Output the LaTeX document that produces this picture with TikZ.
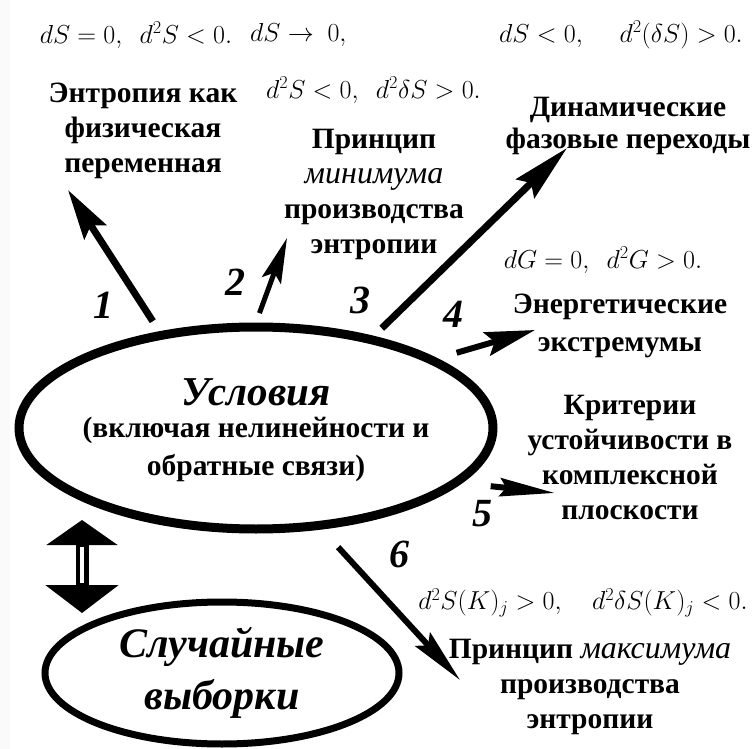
\RequirePackage{fix-cm}
\documentclass[tikz,border=0pt]{standalone}
\usepackage{fontspec}
\setmainfont{Liberation Serif}
\usetikzlibrary{arrows.meta,shapes.geometric,positioning,calc}

\newcommand{\itw}[1]{{\fontsize{32}{35}\selectfont\mdseries\itshape #1}}

\begin{document}
\begin{tikzpicture}[
    x=1pt, y=-1pt,
    txt/.style={font=\fontsize{29.5}{35}\selectfont\bfseries, align=center, inner sep=0pt},
    frm/.style={font=\fontsize{26}{28}\selectfont, inner sep=0pt},
    num/.style={font=\fontsize{40}{40}\selectfont\bfseries\itshape, inner sep=0pt},
    oval/.style={ellipse, draw, inner sep=0pt},
    arr/.style={-{Stealth[length=50pt,width=26pt,inset=8pt]}, line width=7pt},
    twoway/.style={{Triangle[length=25pt,width=70pt]}-{Triangle[length=28pt,width=72pt]},
      line width=13pt}
  ]
  \useasboundingbox (0,0) rectangle (756,749);
  \fill[white] (0,0) rectangle (756,749);
  \fill[black!2] (0,0) rectangle (10,749);

  % Ovals
  \node[oval, line width=9pt, minimum width=474pt, minimum height=202pt] (usl) at (256,428) {};
  \node[txt, font=\fontsize{41}{44}\selectfont\bfseries\itshape] (uslhead) at (256,392) {Условия};
  \node[txt, font=\fontsize{29.5}{38}\selectfont\bfseries] (usltxt) at (256,449)
    {(включая нелинейности и\\обратные связи)};
  \node[oval, line width=7pt, minimum width=354pt, minimum height=142pt,
        txt, font=\fontsize{42}{52}\selectfont\bfseries\itshape] (rnd) at (222,673)
    {Случайные\\выборки};

  % Texts
  \node[txt] (ent) at (143,131) {Энтропия как\\физическая\\переменная};
  \node[txt] (pmin) at (374,194) {Принцип\\\itw{минимума}\\производства\\энтропии};
  \node[txt, font=\fontsize{29.5}{32}\selectfont\bfseries] (dyn) at (628,126)
    {Динамические\\фазовые переходы};
  \node[txt, font=\fontsize{29.5}{38}\selectfont\bfseries] (energ) at (620,326)
    {Энергетические\\экстремумы};
  \node[txt] (krit) at (630,457) {Критерии\\устойчивости в\\комплексной\\плоскости};
  \node[txt] (pmax) at (590,687) {Принцип \itw{максимума}\\производства\\энтропии};

  % Formulas
  \node[frm] (f1) at (136,35) {$dS=0,\ \ d^2S<0.$};
  \node[frm, anchor=west] (f2) at (250,35) {$dS\to\ 0,$};
  \node[frm, anchor=west] (f2b) at (266,90) {$d^2S<0,\ \ d^2\delta S>0.$};
  \node[frm] (f3) at (621,35) {$dS<0,\quad\ d^2(\delta S)>0.$};
  \node[frm] (f4) at (603,260) {$dG=0,\ \ d^2G>0.$};
  \node[frm] (f6) at (583,603) {$d^2S(K)_j>0,\quad d^2\delta S(K)_j<0.$};

  % Arrow ends
  \coordinate (t1) at (68,190);
  \coordinate (t2) at (287,238);
  \coordinate (t3) at (567,148);
  \coordinate (t4) at (535,330);
  \coordinate (t5) at (555,493);
  \coordinate (t6) at (460,680);
  \coordinate (up) at (82,520);
  \coordinate (dn) at (82,613);

  % Arrows
  \draw[arr, shorten <=12pt] (usl.135) -- (t1);
  \draw[arr, line width=5pt, shorten <=10pt,
        -{Stealth[length=45pt,width=20pt,inset=8pt]}] (usl.90) -- (t2);
  \draw[arr, shorten <=11pt,
        -{Stealth[length=58pt,width=26pt,inset=8pt]}] (usl.38) -- (t3);
  \draw[arr, line width=6pt, shorten <=20pt,
        -{Stealth[length=50pt,width=24pt,inset=8pt]}] (usl.21) -- (t4);
  \draw[arr, line width=6pt, shorten <=29pt,
        -{Stealth[length=55pt,width=18pt,inset=6pt]}] (usl.345) -- (t5);
  \draw[arr, line width=6pt, shorten <=24pt,
        -{Stealth[length=55pt,width=20pt,inset=8pt]}] (usl.303) -- (t6);
  \draw[twoway] (up) -- (dn);
  \draw[white, line width=4pt] ($(up)+(0,27)$) -- ($(dn)+(0,-30)$);

  % Numbers
  \node[num] (n1) at (103,305) {1};
  \node[num] (n2) at (235,282) {2};
  \node[num] (n3) at (360,300) {3};
  \node[num] (n4) at (453,314) {4};
  \node[num] (n5) at (482,514) {5};
  \node[num] (n6) at (399,554) {6};
\end{tikzpicture}
\end{document}
